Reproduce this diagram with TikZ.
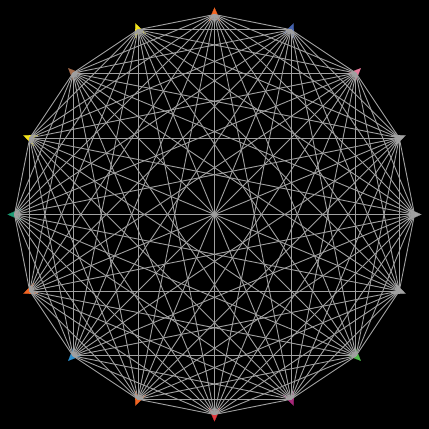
\documentclass[tikz,border=0pt]{standalone}
\usepackage{xcolor}
\usetikzlibrary{arrows.meta}
\definecolor{EdgeGray}{HTML}{A0A0A0}
\definecolor{TipOrange}{HTML}{F26522}
\definecolor{TipBlue}{HTML}{4462AE}
\definecolor{TipPink}{HTML}{E9789A}
\definecolor{TipGray}{HTML}{A3A3A3}
\definecolor{TipGreen}{HTML}{4DB848}
\definecolor{TipMagenta}{HTML}{A8287A}
\definecolor{TipRed}{HTML}{E2393E}
\definecolor{TipSky}{HTML}{2A8DCB}
\definecolor{TipTeal}{HTML}{1B9A74}
\definecolor{TipYellow}{HTML}{F4E41C}
\definecolor{TipBrown}{HTML}{A26A4A}

\begin{document}
\begin{tikzpicture}[x=0.0233cm,y=0.0233cm,
    edge/.style={EdgeGray, line width=0.6pt},
    tip/.style={line width=0.1pt, arrows={-Stealth[length=0.32cm,width=0.28cm]}}]
    % background
    \fill[black] (-214.5,-214.5) rectangle (214.5,214.5);
    \useasboundingbox (-214.5,-214.5) rectangle (214.5,214.5);
    % vertices on the circle
    \foreach \i in {0,...,15} {
        \coordinate (v\i) at ({90-22.5*\i}:200);
        \coordinate (w\i) at ({90-22.5*\i}:193);
        \coordinate (t\i) at ({90-22.5*\i}:207);
    }
    % coloured tips
    \foreach \i/\c in {0/TipOrange,1/TipBlue,2/TipPink,3/TipGray,4/TipGray,5/TipGray,
                       6/TipGreen,7/TipMagenta,8/TipRed,9/TipOrange,10/TipSky,
                       11/TipOrange,12/TipTeal,13/TipYellow,14/TipBrown,15/TipYellow} {
        \draw[tip,\c] (w\i)--(t\i);
    }
    % all chords
    \foreach \i in {0,...,14} {
        \pgfmathtruncatemacro{\first}{\i+1}
        \foreach \j in {\first,...,15} {
            \draw[edge] (v\i)--(v\j);
        }
    }
\end{tikzpicture}
\end{document}
